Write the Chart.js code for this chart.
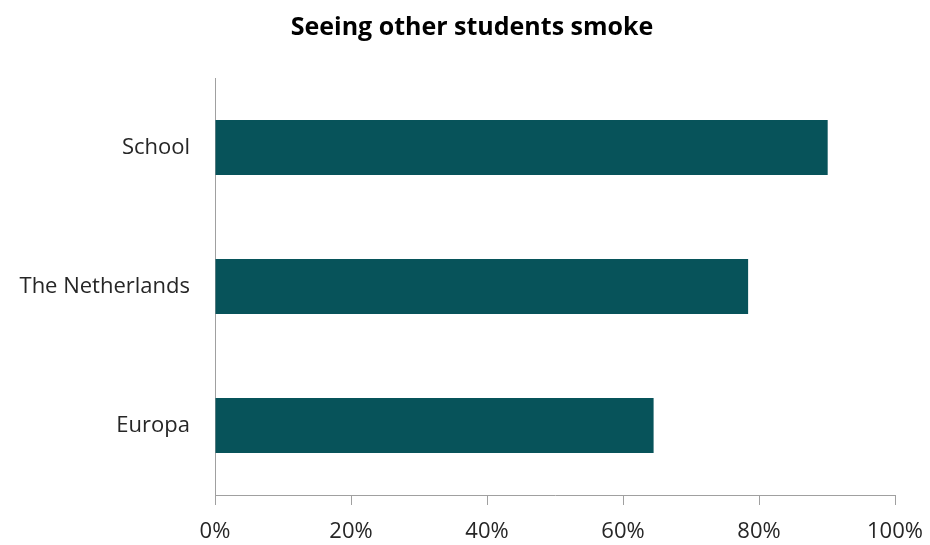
<!DOCTYPE html>
<html>
<head>
<meta charset="utf-8">
<script src="https://cdn.jsdelivr.net/npm/chart.js@4"></script>
<style>
  html, body { margin: 0; padding: 0; background: #fff; }
  #wrap { width: 930px; height: 545px; }
</style>
</head>
<body>
<div id="wrap"><canvas id="smokeChart" width="930" height="545"></canvas></div>
<script>
const categories = ["School", "The Netherlands", "Europa"];
const seenSmoking = [90.1, 78.4, 64.5];
const tickValues = [0, 20, 40, 60, 80, 100];

const font = "'Open Sans', 'Liberation Sans', sans-serif";

const smokeChart = new Chart(document.getElementById("smokeChart"), {
    type: "bar",
    data: {
        labels: categories,
        datasets: [
            {
                label: "Seeing other students smoke",
                data: seenSmoking,
                backgroundColor: "#07535a",
                barPercentage: 0.395,
                categoryPercentage: 1,
            },
        ],
    },
    options: {
        indexAxis: "y",
        responsive: false,
        animation: false,
        devicePixelRatio: 1,
        layout: {
            padding: { left: 14, right: 0, top: 0, bottom: 0 },
        },
        plugins: {
            legend: { display: false },
            tooltip: { enabled: false },
            title: {
                display: true,
                text: "Seeing other students smoke",
                color: "#000",
                font: { family: font, size: 25, weight: "bold" },
                padding: { top: 13, bottom: 35 },
            },
        },
        scales: {
            x: {
                min: 0,
                max: 100,
                afterBuildTicks: function (scale) {
                    scale.ticks = tickValues.map(v => ({ value: v }));
                },
                afterFit: function (scale) {
                    scale.height = 50;
                    scale.paddingRight = 35;
                },
                grid: {
                    drawOnChartArea: false,
                    drawTicks: true,
                    tickLength: 10,
                    color: "#a0a0a0",
                },
                border: { display: true, color: "#a0a0a0", width: 1 },
                ticks: {
                    padding: 14,
                    color: "#262626",
                    font: { family: font, size: 22 },
                    maxRotation: 0,
                    callback: function (value) {
                        return value + "%";
                    },
                },
            },
            y: {
                afterFit: function (scale) {
                    scale.width = 201;
                },
                grid: { display: false, drawTicks: false },
                border: { display: true, color: "#a0a0a0", width: 1 },
                ticks: {
                    padding: 25,
                    color: "#262626",
                    font: { family: font, size: 22 },
                },
            },
        },
    },
});
</script>
</body>
</html>
